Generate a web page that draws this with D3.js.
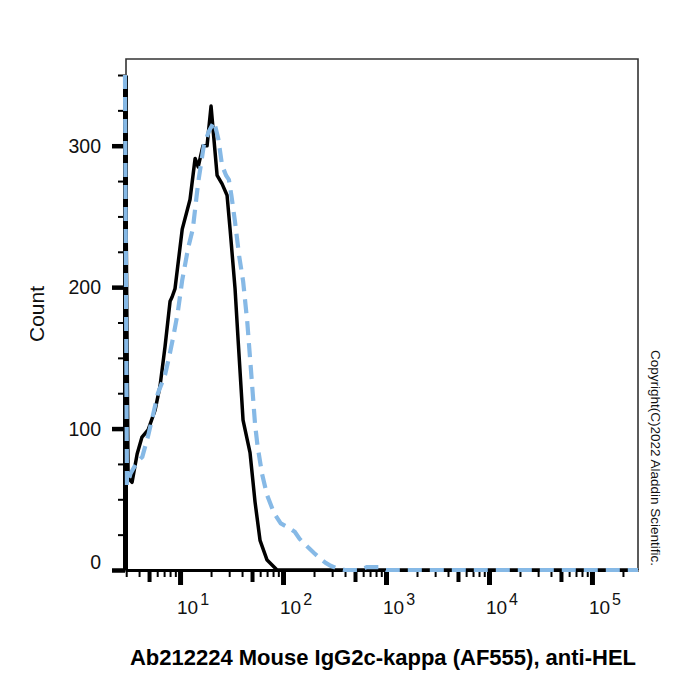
<!DOCTYPE html>
<html>
<head>
<meta charset="utf-8">
<script src="https://cdn.jsdelivr.net/npm/d3@7"></script>
<style>
  html, body { margin: 0; padding: 0; background: #fff; }
  svg { display: block; font-family: "Liberation Sans", Arial, sans-serif; }
</style>
</head>
<body>
<svg id="chart" width="700" height="700"></svg>
<script>
// ---- data ----
const blackX = [2.92, 3.13, 3.42, 3.83, 4.27, 4.89, 5.72, 6.39, 7.15, 8.0, 8.37, 8.94, 10.5, 12.5, 14.0, 15.0, 16.7, 18.3, 20.0, 20.9, 22.9, 25.6, 28.6, 30.6, 34.2, 36.6, 40.9, 47.8, 53.5, 59.8, 70, 87.5, 200, 1000, 10000, 100000, 280000];
const blackY = [350, 65, 62, 82, 94, 99, 113, 130, 158, 190, 193, 199, 241, 262, 291, 285, 300, 300, 328, 312, 279, 273, 265, 241, 199, 163, 106, 83, 48, 21, 7, 0, 0, 0, 0, 0, 0];

const blueX = [2.92, 3.05, 3.3, 3.8, 4.3, 4.9, 5.4, 6.1, 7.15, 7.8, 8.6, 9.5, 10.5, 12.0, 13.3, 15.0, 17.0, 19.0, 21.4, 23.5, 25.6, 28.0, 29.8, 31.5, 34.2, 37.5, 41.0, 45.0, 49.0, 53.5, 56.5, 62.5, 70, 82, 95, 113, 130, 145, 175, 200, 230, 260, 290, 340, 400, 560, 650, 850, 1000, 10000, 100000, 280000];
const blueY = [350, 60, 68, 76, 80, 95, 108, 125, 138, 150, 165, 182, 205, 228, 241, 274, 300, 310, 317, 305, 286, 279, 276, 265, 246, 222, 204, 175, 140, 103, 88, 68, 53, 40, 33, 30, 27, 22, 16, 12, 8, 5, 3, 1, 0, 0, 2, 2, 0, 0, 0, 0];

const yTickValues = [0, 25, 50, 75, 100, 125, 150, 175, 200, 225, 250, 275, 300, 325, 350];
const yTickLabels = [0, 100, 200, 300];
const xDecades = [1, 2, 3, 4, 5];
const xLabel = "Ab212224 Mouse IgG2c-kappa (AF555), anti-HEL";
const yLabel = "Count";
const copyright = "Copyright(C)2022 Aladdin Scientific.";

// ---- layout ----
const svg = d3.select("#chart");
const x = d3.scaleLog().domain([2.92, 280000]).range([125, 638]);
const y = d3.scaleLinear().domain([0, 350]).range([570, 75]);

// x tick values: 1..9 x 10^d inside domain
const xTickValues = [];
for (let d = 0; d <= 5; d++) {
  for (let m = 1; m <= 9; m++) {
    const v = m * Math.pow(10, d);
    if (v >= 2.95 && v <= 280000) xTickValues.push(v);
  }
}
function xKind(v) {
  const e = Math.floor(Math.log10(v) + 1e-9);
  const m = Math.round(v / Math.pow(10, e));
  return m === 1 ? "major" : (m === 5 ? "mid" : "minor");
}

// frame (thin)
svg.append("path")
  .attr("d", `M${x.range()[0] + 1},${y(350)} V59 H638 V${y(0)}`)
  .attr("fill", "none").attr("stroke", "#333").attr("stroke-width", 1.6);

// series
const line = d3.line().x(d => x(d[0])).y(d => y(d[1]));
const blackData = blackX.map((v, i) => [v, blackY[i]]);
const blueData = blueX.map((v, i) => [v, blueY[i]]);

// x axis
const xAxis = d3.axisBottom(x).tickValues(xTickValues).tickFormat("").tickSizeOuter(0);
const gx = svg.append("g").attr("transform", `translate(0,${y(0)})`).call(xAxis);
gx.select(".domain").attr("stroke", "#000").attr("stroke-width", 3);
gx.selectAll(".tick line")
  .attr("stroke", "#000")
  .attr("y2", d => xKind(d) === "major" ? 15 : (xKind(d) === "mid" ? 12 : 7))
  .attr("stroke-width", d => xKind(d) === "major" ? 5 : (xKind(d) === "mid" ? 4 : 2));

// x tick labels (10^n)
const xl = svg.append("g").selectAll("text").data(xDecades).join("text")
  .attr("x", d => x(Math.pow(10, d)) - 3)
  .attr("y", 614)
  .attr("font-size", 19)
  .attr("fill", "#111");
xl.append("tspan").text("10");
xl.append("tspan").attr("font-size", 16).attr("dy", -9).attr("dx", 2).text(d => d);

// y axis
const yAxis = d3.axisLeft(y).tickValues(yTickValues).tickFormat("").tickSizeOuter(0);
const gy = svg.append("g").attr("transform", `translate(125,0)`).call(yAxis);
gy.select(".domain").attr("stroke", "#000").attr("stroke-width", 5);
gy.selectAll(".tick line")
  .attr("stroke", "#000")
  .attr("x2", d => d % 100 === 0 ? -13 : -7)
  .attr("stroke-width", d => d % 100 === 0 ? 4.5 : 2);

svg.append("g").selectAll("text").data(yTickLabels).join("text")
  .attr("x", 101)
  .attr("y", d => y(d) + (d === 0 ? -1 : 7))
  .attr("text-anchor", "end")
  .attr("font-size", 19.5)
  .attr("fill", "#111")
  .text(d => d);

// series drawn over axes
svg.append("path").datum(blackData)
  .attr("d", line).attr("fill", "none")
  .attr("stroke", "#000").attr("stroke-width", 3.5)
  .attr("stroke-linejoin", "round");
svg.append("path").datum(blueData)
  .attr("d", line).attr("fill", "none")
  .attr("stroke", "#86b9e6").attr("stroke-width", 4.2)
  .attr("stroke-dasharray", "14,8");

// axis titles
svg.append("defs").append("clipPath").attr("id", "ylabclip")
  .append("rect").attr("x", 30).attr("y", 0).attr("width", 80).attr("height", 700);
svg.append("g").attr("clip-path", "url(#ylabclip)")
  .append("text")
  .attr("transform", "translate(44,314) rotate(-90)")
  .attr("text-anchor", "middle")
  .attr("font-size", 21)
  .attr("fill", "#111")
  .text(yLabel);

svg.append("text")
  .attr("x", 383).attr("y", 665)
  .attr("text-anchor", "middle")
  .attr("font-size", 22)
  .attr("font-weight", "bold")
  .attr("fill", "#000")
  .text(xLabel);

svg.append("text")
  .attr("transform", "translate(651,350) rotate(90)")
  .attr("font-size", 13.5)
  .attr("fill", "#111")
  .text(copyright);
</script>
</body>
</html>
